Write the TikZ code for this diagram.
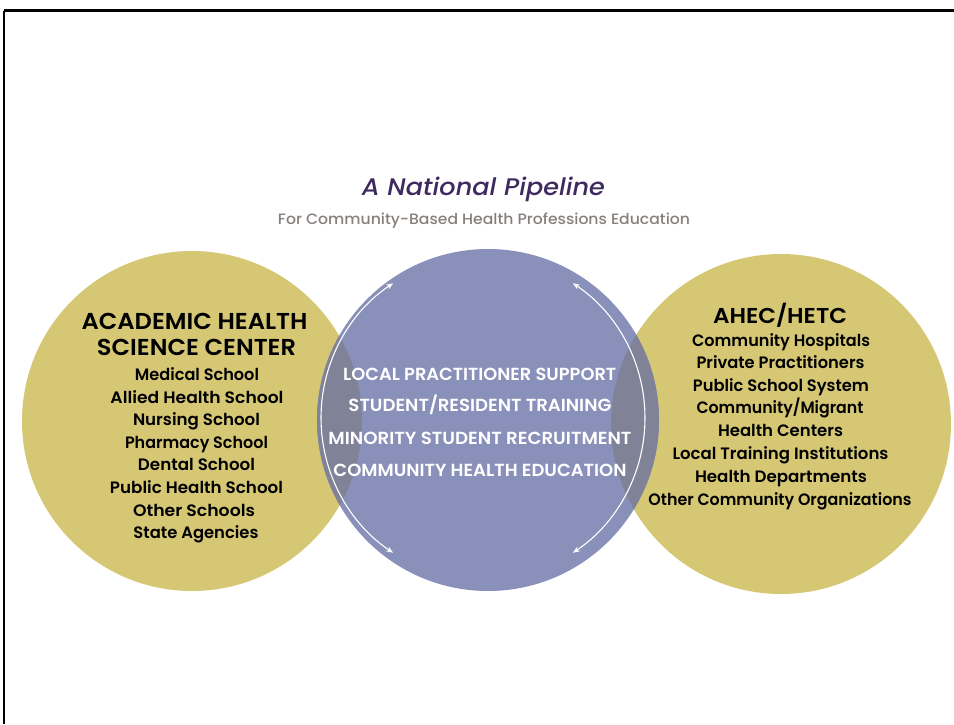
\documentclass[tikz,border=0pt]{standalone}
\usepackage{fontspec}
\setmainfont{Poppins}
\newfontfamily\pmed{Poppins Medium}
\newfontfamily\psemi{Poppins SemiBold}
\newfontfamily\pmedit{Poppins Medium Italic}
\usetikzlibrary{arrows.meta,calc}
\definecolor{yell}{RGB}{214,199,117}
\definecolor{blu}{RGB}{137,144,186}
\definecolor{ovl}{RGB}{128,130,152}
\definecolor{ttl}{RGB}{62,42,94}
\definecolor{subc}{RGB}{135,127,124}
\newcommand{\fitw}[2]{\resizebox{#1}{\height}{#2}}
\begin{document}
\begin{tikzpicture}[x=1pt,y=-1pt,
  disc/.style={circle,inner sep=0pt,minimum size=#1},
  txt/.style={inner sep=0pt,anchor=base},
  head/.style={txt,font=\psemi\fontsize{23}{23}\selectfont,text=black},
  item/.style={txt,font=\psemi\fontsize{16.5}{16.5}\selectfont,text=black},
  mid/.style={txt,font=\psemi\fontsize{17.5}{17.5}\selectfont,text=white},
  link/.style={white,line width=1.1pt,{Stealth[length=7pt,width=5.5pt]}-{Stealth[length=7pt,width=5.5pt]}}
]
\useasboundingbox (0,0) rectangle (954,724);
% frame
\coordinate (f1) at (4.3,724);
\coordinate (f2) at (4.3,10.7);
\coordinate (f3) at (954,10.7);
\draw[line width=2pt] (f1) -- (f2);
\draw[line width=2.8pt] (f2) -- (f3);
% circles
\node[disc=340pt,fill=yell] (L) at (192,421) {};
\node[disc=340pt,fill=yell] (R) at (781,424) {};
\node[disc=342pt,fill=blu] (M) at (488,420) {};
\begin{scope}
  \clip (M.center) circle[radius=171pt];
  \fill[ovl] (L.center) circle[radius=170pt];
  \fill[ovl] (R.center) circle[radius=170pt];
\end{scope}
% arcs with arrows
\coordinate (ac) at (483,418);
\coordinate (a1) at ($(ac)+(236.3:162)$);
\coordinate (a3) at ($(ac)+(-56.3:162)$);
\draw[link] (a1) arc[start angle=236.3, end angle=123.7, radius=162];
\draw[link] (a3) arc[start angle=-56.3, end angle=56.3, radius=162];
% title
\node[txt,text=ttl,font=\pmedit\fontsize{24}{24}\selectfont] (title) at (483.5,195) {\fitw{243pt}{A National Pipeline}};
\node[txt,text=subc,font=\pmed\fontsize{15}{15}\selectfont] (subtitle) at (484,224.3) {\fitw{412pt}{For Community-Based Health Professions Education}};
% left
\node[head] (lh1) at (194.5,329) {\fitw{226pt}{ACADEMIC HEALTH}};
\node[head] (lh2) at (196.5,355) {\fitw{199pt}{SCIENCE CENTER}};
\node[item] (l1) at (197,380) {\fitw{124pt}{Medical School}};
\node[item] (l2) at (197,403) {\fitw{173pt}{Allied Health School}};
\node[item] (l3) at (196.5,425) {\fitw{127pt}{Nursing School}};
\node[item] (l4) at (196.5,448) {\fitw{143pt}{Pharmacy School}};
\node[item] (l5) at (196.5,470) {\fitw{117pt}{Dental School}};
\node[item] (l6) at (196.5,493) {\fitw{173pt}{Public Health School}};
\node[item] (l7) at (194,516) {\fitw{122pt}{Other Schools}};
\node[item] (l8) at (196,538) {\fitw{125pt}{State Agencies}};
% right
\node[txt,font=\psemi\fontsize{21.5}{21.5}\selectfont] (rh) at (780,323) {\fitw{134pt}{AHEC/HETC}};
\node[item] (r1) at (781,346) {\fitw{178pt}{Community Hospitals}};
\node[item] (r2) at (780.5,368) {\fitw{168pt}{Private Practitioners}};
\node[item] (r3) at (781,391) {\fitw{176pt}{Public School System}};
\node[item] (r4) at (780,413) {\fitw{167pt}{Community/Migrant}};
\node[item] (r5) at (780.5,436) {\fitw{125pt}{Health Centers}};
\node[item] (r6) at (780.5,459) {\fitw{216pt}{Local Training Institutions}};
\node[item] (r7) at (781,482) {\fitw{172pt}{Health Departments}};
\node[item] (r8) at (780,505) {\fitw{263pt}{Other Community Organizations}};
% middle
\node[mid] (m1) at (479.7,380) {\fitw{273pt}{LOCAL PRACTITIONER SUPPORT}};
\node[mid] (m2) at (480,411.7) {\fitw{263pt}{STUDENT/RESIDENT TRAINING}};
\node[mid] (m3) at (480,444) {\fitw{303pt}{MINORITY STUDENT RECRUITMENT}};
\node[mid] (m4) at (480,476) {\fitw{293pt}{COMMUNITY HEALTH EDUCATION}};
\end{tikzpicture}
\end{document}
